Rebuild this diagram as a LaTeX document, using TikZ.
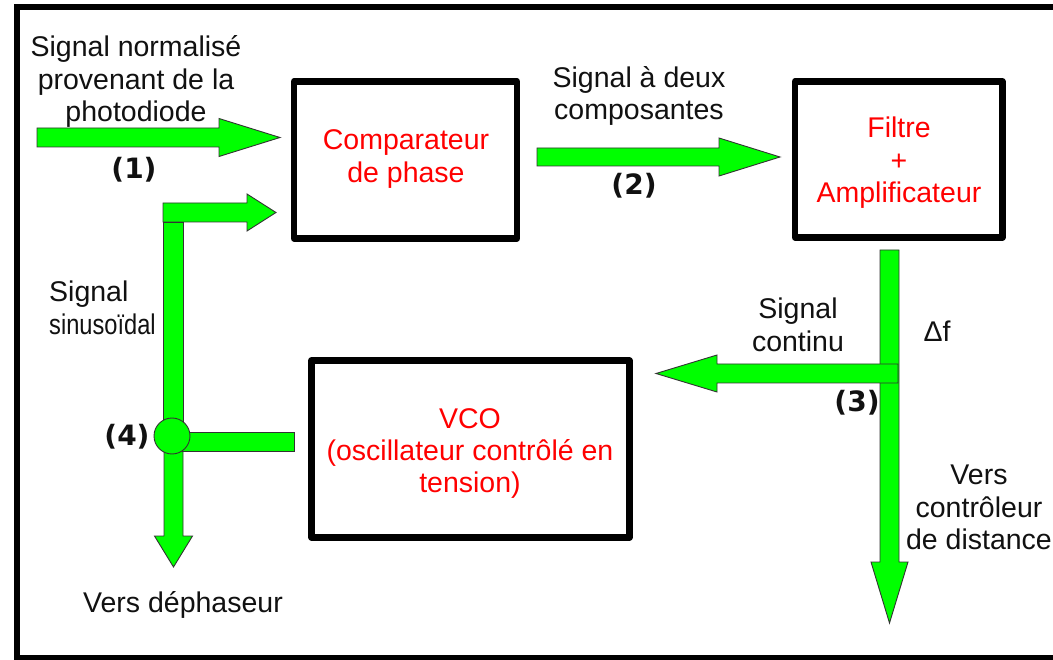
\documentclass[tikz,border=0pt]{standalone}
\usepackage{fontspec}
\setmainfont{Liberation Sans}
\newfontfamily\numfont{DejaVu Sans}
\definecolor{arrgreen}{HTML}{00FF00}
\definecolor{txtred}{HTML}{FF0000}
\definecolor{txtblack}{HTML}{111111}
% horizontal block arrow pointing right/left: xstart, xheadbase, xtip, ycenter, halfshaft, halfhead
\newcommand\hblock[6]{%
  \draw[garrow] (#1,#4-#5) -- (#2,#4-#5) -- (#2,#4-#6) -- (#3,#4) -- (#2,#4+#6) -- (#2,#4+#5) -- (#1,#4+#5) -- cycle;}
% vertical block arrow pointing down: ystart, yheadbase, ytip, xcenter, halfshaft, halfhead
\newcommand\vblock[6]{%
  \draw[garrow] (#4-#5,#1) -- (#4-#5,#2) -- (#4-#6,#2) -- (#4,#3) -- (#4+#6,#2) -- (#4+#5,#2) -- (#4+#5,#1) -- cycle;}
\begin{document}
\begin{tikzpicture}[x=1pt,y=-1pt]
\tikzset{
  garrow/.style={fill=arrgreen, draw=black!80, line width=0.9pt, line join=miter},
  boxstyle/.style={draw=black, line width=6.5pt, line join=round, rectangle, inner sep=0pt, fill=white},
  lbl/.style={font=\fontsize{28.5}{32.5}\selectfont, align=center, inner sep=0pt, text=txtblack},
  rlbl/.style={lbl, text=txtred},
  num/.style={font=\numfont\bfseries\fontsize{28}{32}\selectfont, inner sep=0pt, text=txtblack}
}
\useasboundingbox (0,0) rectangle (1053,660);
\fill[white] (0,0) rectangle (1053,660);
% outer frame (left, top, bottom)
\draw[line width=6pt] (1070,7) -- (17,7) -- (17,658) -- (1070,658);

% boxes
\node[boxstyle, minimum width=223pt, minimum height=157pt] (comp) at (405.5,160) {};
\node[boxstyle, minimum width=207.5pt, minimum height=156pt] (filt) at (898.75,159.5) {};
\node[boxstyle, minimum width=318pt, minimum height=177pt] (vco) at (470.5,449) {};

\node[rlbl] (tcomp) at (406,159) {Comparateur\\de phase};
\node[rlbl] (tfilt) at (899,163) {Filtre\\+\\Amplificateur};
\node[rlbl] (tvco) at (470,453.5) {VCO\\(oscillateur contrôlé en\\tension)};

% arrow (1) into comparator
\hblock{37}{219}{280}{137.5}{9.5}{19}
% arrow (2) comparator -> filter
\hblock{537}{719}{780}{157}{9}{19}
% right branch: vertical down from filter
\vblock{250}{562}{623}{889.5}{9.5}{18.5}
% signal continu, to the left
\hblock{898}{717}{656}{373.5}{9.5}{18.5}
% left feedback: top arrow into comparator
\hblock{163}{247}{276}{212.5}{9.5}{18.5}
\draw[garrow] (163,222) rectangle (183,436);
% down arrow to dephaseur
\vblock{436}{536}{567}{173.5}{9.5}{19}
% stub from VCO
\draw[garrow] (172,432) rectangle (294,451);
% junction (4)
\draw[garrow] (172,436) circle[radius=18];

% labels
\node[lbl] (t1) at (136,81.5) {Signal normalisé\\provenant de la\\photodiode};
\node[num] (n1) at (134,170) {(1)};
\node[lbl] (t2) at (639,96) {Signal à deux\\composantes};
\node[num] (n2) at (634,186) {(2)};
\node[lbl] (t3) at (798,325) {Signal\\continu};
\node[lbl] (tdf) at (937,331) {Δf};
\node[num] (n3) at (857,403) {(3)};
\node[lbl] (t4) at (979,507.5) {Vers\\contrôleur\\de distance};
\node[lbl, align=left, anchor=west] (t5) at (49,308) {Signal\\\scalebox{0.83}[1]{sinusoïdal}};
\node[num] (n4) at (127,437) {(4)};
\node[lbl] (t6) at (183,604.5) {Vers déphaseur};
\end{tikzpicture}
\end{document}
